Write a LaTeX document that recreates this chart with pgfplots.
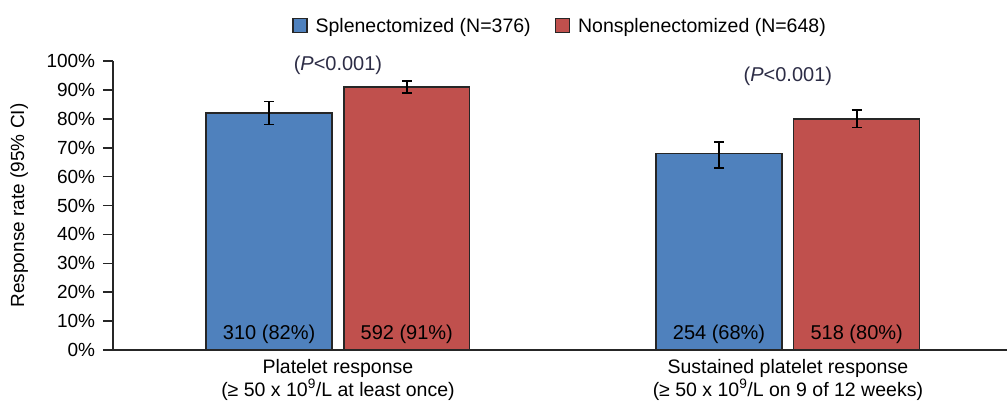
\documentclass[border=0pt]{standalone}
\usepackage{fontspec}
\setmainfont{Liberation Sans}
\usepackage{pgfplots}
\pgfplotsset{compat=1.18}
\definecolor{sblue}{HTML}{4F81BD}
\definecolor{sred}{HTML}{C0504D}
\definecolor{ptxt}{RGB}{45,45,70}
\begin{document}
\fontsize{20}{24}\selectfont
\begin{tikzpicture}
\begin{axis}[
  scale only axis,
  clip=false,
  width=894pt, height=289pt,
  xmin=-0.5, xmax=1.487,
  ymin=0, ymax=100,
  axis lines=left,
  axis line style={-, line width=1.6pt, black!85},
  ytick={0,10,...,100},
  yticklabel={\pgfmathprintnumber{\tick}\%},
  /pgf/number format/assume math mode=true,
  tick align=outside,
  major tick length=10pt,
  tick style={line width=1.6pt, black!85},
  y tick label style={font=\fontsize{19}{22}\selectfont, xshift=-1pt},
  xtick={0,1},
  xticklabels={{Platelet response\\(≥ 50 x 10\textsuperscript{9}/L at least once)},
               {Sustained platelet response\\(≥ 50 x 10\textsuperscript{9}/L on 9 of 12 weeks)}},
  x tick label style={align=center, font=\fontsize{19.5}{23}\selectfont, yshift=8pt},
  x tick style={draw=none},
  extra x ticks={0.5},
  extra x tick labels={},
  extra x tick style={tick style={draw=black!85, line width=1.6pt}, major tick length=8pt},
  ylabel={Response rate (95\% CI)},
  ylabel style={font=\fontsize{19}{22}\selectfont, yshift=5pt},
  ybar, bar width=0.28,
  legend columns=2,
  legend style={at={(0.5,1.075)}, anchor=south, draw=none, fill=none,
    font=\fontsize{19.5}{22}\selectfont, column sep=6pt,
    /tikz/every even column/.append style={column sep=22pt}},
  legend image code/.code={\draw[#1, line width=1.4pt] (0pt,-6pt) rectangle (14pt,8pt);},
  error bars/error bar style={line width=1.6pt, black},
  error bars/error mark options={rotate=90, mark size=5pt, line width=1.6pt},
]
\addplot[bar shift=-0.153, fill=sblue, draw=black!85, line width=1.4pt,
  error bars/.cd, y dir=both, y explicit]
  coordinates {(0,82) += (0,4) -= (0,4) (1,68) += (0,4) -= (0,5)};
\addlegendentry{Splenectomized (N=376)}
\addplot[bar shift=0.153, fill=sred, draw=black!85, line width=1.4pt,
  error bars/.cd, y dir=both, y explicit]
  coordinates {(0,91) += (0,2) -= (0,2) (1,80) += (0,3) -= (0,3)};
\addlegendentry{Nonsplenectomized (N=648)}
\node[font=\fontsize{20}{24}\selectfont] at (axis cs:-0.153,5.3) {310 (82\%)};
\node[font=\fontsize{20}{24}\selectfont] at (axis cs:0.153,5.3) {592 (91\%)};
\node[font=\fontsize{20}{24}\selectfont] at (axis cs:0.847,5.3) {254 (68\%)};
\node[font=\fontsize{20}{24}\selectfont] at (axis cs:1.153,5.3) {518 (80\%)};
\node[font=\fontsize{20}{24}\selectfont, text=ptxt] at (axis cs:0,98.5) {(\textit{P}<0.001)};
\node[font=\fontsize{20}{24}\selectfont, text=ptxt] at (axis cs:1,94.7) {(\textit{P}<0.001)};
\end{axis}
\pgfresetboundingbox
\path[use as bounding box] ([shift={(-113pt,-50pt)}]current axis.south west) rectangle ++(1007pt,400pt);
\end{tikzpicture}
\end{document}
